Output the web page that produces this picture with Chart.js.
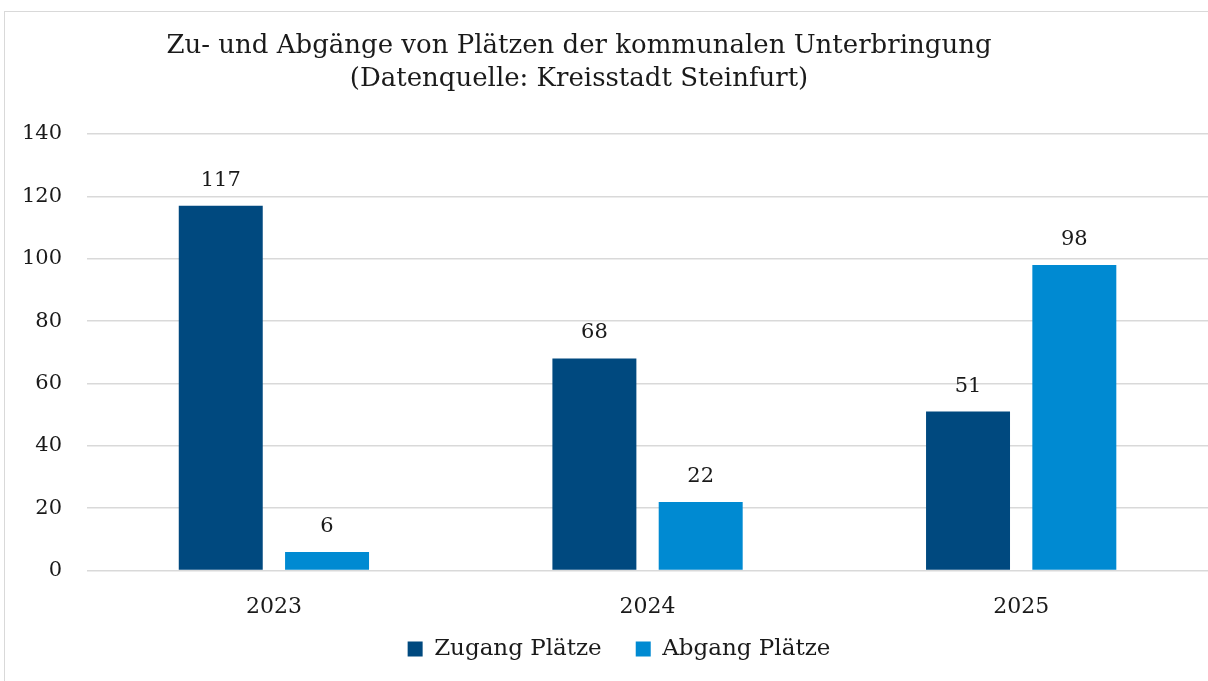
<!DOCTYPE html>
<html>
<head>
<meta charset="utf-8">
<script src="https://cdn.jsdelivr.net/npm/chart.js@4.4.1/dist/chart.umd.min.js"></script>
<style>
  html, body { margin: 0; padding: 0; background: #ffffff; overflow: hidden; }
  #frame { position: absolute; left: 4px; top: 11px; width: 1300px; height: 800px;
           border-left: 1px solid #d9d9d9; border-top: 1px solid #d9d9d9; }
  #wrap { position: absolute; left: 0; top: 0; width: 1208px; height: 681px; }
</style>
</head>
<body>
<div id="frame"></div>
<div id="wrap"><canvas id="c" width="1208" height="681"></canvas></div>
<script>
const categories = ['2023', '2024', '2025'];
const zugangPlaetze = [117, 68, 51];
const abgangPlaetze = [6, 22, 98];
const seriesNames = ['Zugang Plätze', 'Abgang Plätze'];
const yTicks = [0, 20, 40, 60, 80, 100, 120, 140];
const titleLines = ['Zu- und Abgänge von Plätzen der kommunalen Unterbringung', '(Datenquelle: Kreisstadt Steinfurt)'];

const TEXT = '#1a1a1a';
const FONT = "'DejaVu Serif', serif";

const valueLabels = {
  id: 'valueLabels',
  afterDatasetsDraw(chart) {
    const ctx = chart.ctx;
    ctx.save();
    ctx.font = "21px " + FONT;
    ctx.fillStyle = TEXT;
    ctx.textAlign = 'center';
    ctx.textBaseline = 'bottom';
    chart.data.datasets.forEach((ds, i) => {
      const meta = chart.getDatasetMeta(i);
      meta.data.forEach((bar, j) => {
        ctx.fillText(String(ds.data[j]), bar.x, bar.y - 15);
      });
    });
    ctx.restore();
  }
};

// Title and legend in the reference are not centred on the canvas
const shiftBoxes = {
  id: 'shiftBoxes',
  afterLayout(chart) {
    const t = chart.titleBlock;
    if (t) { const dx = 579 - (t.left + t.right) / 2; t.left += dx; t.right += dx; }
    const l = chart.legend;
    if (l) {
      const dx = 619 - (l.left + l.right) / 2; l.left += dx; l.right += dx;
      const dy = 637 - (l.top + l.bottom) / 2; l.top += dy; l.bottom += dy;
    }
  }
};

new Chart(document.getElementById('c'), {
  type: 'bar',
  data: {
    labels: categories,
    datasets: [
      { label: seriesNames[0], data: zugangPlaetze, backgroundColor: '#00497f',
        categoryPercentage: 0.569, barPercentage: 0.79 },
      { label: seriesNames[1], data: abgangPlaetze, backgroundColor: '#008ad2',
        categoryPercentage: 0.569, barPercentage: 0.79 }
    ]
  },
  options: {
    responsive: false,
    animation: false,
    devicePixelRatio: 1,
    layout: { padding: { left: -3, right: 0, top: 0, bottom: -21 } },
    plugins: {
      title: {
        display: true,
        text: titleLines,
        color: TEXT,
        font: { family: FONT, size: 26, weight: 'normal', lineHeight: 1.25 },
        padding: { top: 30, bottom: 39 }
      },
      legend: {
        display: true,
        position: 'bottom',
        labels: {
          color: TEXT,
          font: { family: FONT, size: 23 },
          boxWidth: 15,
          boxHeight: 15,
          padding: 34
        }
      },
      tooltip: { enabled: false }
    },
    scales: {
      x: {
        grid: { display: false },
        border: { display: false },
        ticks: { color: TEXT, font: { family: FONT, size: 22 }, padding: 15 }
      },
      y: {
        min: 0, max: 140,
        afterBuildTicks(axis) { axis.ticks = yTicks.map(v => ({ value: v })); },
        grid: { color: '#d9d9d9', lineWidth: 1.5, drawTicks: false },
        border: { display: false },
        ticks: { color: TEXT, font: { family: FONT, size: 21 }, padding: 25 }
      }
    }
  },
  plugins: [valueLabels, shiftBoxes]
});
</script>
</body>
</html>
